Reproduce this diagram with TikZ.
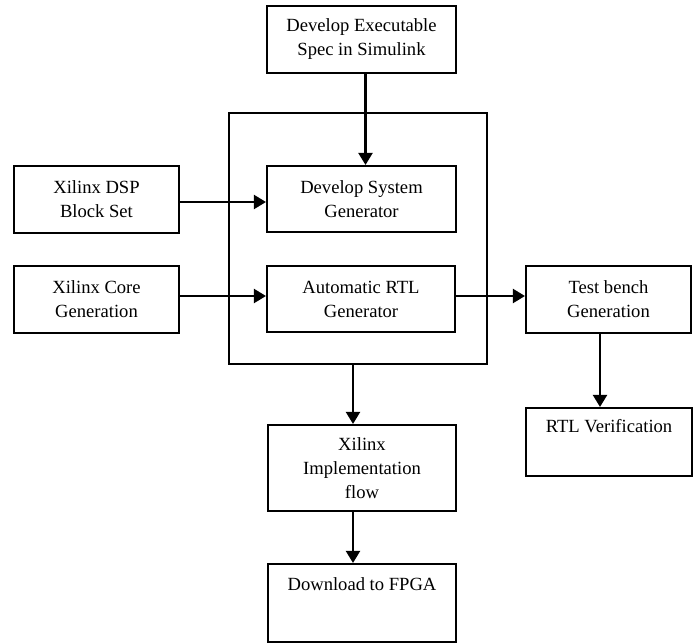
\documentclass[tikz,border=0pt]{standalone}
\usepackage{fontspec}
\setmainfont{Liberation Serif}
\usetikzlibrary{arrows.meta}
\begin{document}
\begin{tikzpicture}[x=1pt,y=-1pt,
  box/.style={draw=black, line width=2.1pt, align=center, inner sep=0pt,
    font=\fontsize{18.6}{24}\selectfont},
  toplabel/.style={anchor=north, inner sep=0pt, font=\fontsize{18.6}{24}\selectfont},
  flow/.style={line width=2.1pt, -{Triangle[width=14pt,length=12pt]}}]
\useasboundingbox (0,0) rectangle (694,643);
\fill[white] (0,0) rectangle (694,643);
% container
\node[box, minimum width=258pt, minimum height=251pt] (sysbox) at (358,238.5) {};
% boxes
\node[box, minimum width=189pt, minimum height=67pt] (spec) at (361.5,39.5) {Develop Executable\\Spec in Simulink};
\node[box, minimum width=189pt, minimum height=66pt] (sys) at (361.5,199) {Develop System\\Generator};
\node[box, minimum width=188pt, minimum height=66pt] (rtl) at (361,299) {Automatic RTL\\Generator};
\node[box, minimum width=165pt, minimum height=67pt] (dsp) at (96.5,199.5) {Xilinx DSP\\Block Set};
\node[box, minimum width=165pt, minimum height=67pt] (core) at (96.5,299.5) {Xilinx Core\\Generation};
\node[box, minimum width=165pt, minimum height=67pt] (tb) at (608.5,299.5) {Test bench\\Generation};
\node[box, minimum width=166pt, minimum height=68pt,
  label={[toplabel, yshift=-12pt]north:RTL Verification}] (ver) at (609,442) {};
\node[box, minimum width=188pt, minimum height=86pt] (impl) at (362,468) {Xilinx\\Implementation\\flow};
\node[box, minimum width=188pt, minimum height=78pt,
  label={[toplabel, yshift=-14pt]north:Download to FPGA}] (dl) at (362,603) {};
% connectors
\draw[flow] ([xshift=4pt]spec.south) -- ([xshift=4pt]sys.north);
\draw[flow] ([yshift=-2.5pt]dsp.east) -- ([yshift=-2.5pt]dsp.east -| sys.west);
\draw[flow] ([yshift=3.5pt]core.east) -- ([yshift=3.5pt]core.east -| rtl.west);
\draw[flow] ([yshift=3pt]rtl.east) -- ([yshift=3pt]rtl.east -| tb.west);
\draw[flow] ([xshift=-8.5pt]tb.south) -- ([xshift=-8.5pt]tb.south |- ver.north);
\draw[flow] ([xshift=-5pt]sysbox.south) -- ([xshift=-5pt]sysbox.south |- impl.north);
\draw[flow] ([xshift=-9pt]impl.south) -- ([xshift=-9pt]dl.north);
\end{tikzpicture}
\end{document}
